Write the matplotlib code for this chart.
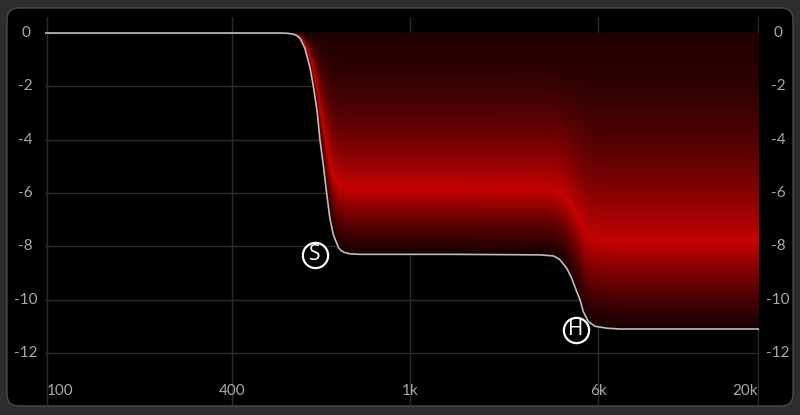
import numpy as np
import matplotlib
matplotlib.use("Agg")
import matplotlib.pyplot as plt
from matplotlib.colors import LinearSegmentedColormap
from matplotlib.patches import FancyBboxPatch, Polygon

plt.rcParams["font.family"] = ["Lato", "DejaVu Sans"]

# shelf response (Hz, dB)
freq = [98.5, 300, 450, 512, 531, 548, 558, 568, 582, 598, 608, 620, 629, 640,
        651, 662, 674, 692, 701, 716, 734, 773, 1500, 3452, 3919, 4060, 4178,
        4453, 4670, 4898, 5053, 5215, 5470, 5832, 6409, 7080, 20150]
gain = [0, 0, 0, 0, -0.01, -0.04, -0.1, -0.2, -0.57, -1.32, -2.0, -2.95, -4.0,
        -4.95, -6.0, -6.95, -7.57, -8.05, -8.16, -8.24, -8.28, -8.3, -8.3,
        -8.32, -8.36, -8.43, -8.51, -8.82, -9.2, -9.7, -10.0, -10.45, -10.82,
        -11.0, -11.07, -11.1, -11.1]

# the two band handles: S = low/mid shelf, H = high shelf
handle_names = ["S", "H"]
handle_freq = [612, 4852]
handle_gain = [-8.31, -11.12]

x_ticks = [100, 400, 1000, 6000, 20000]
x_labels = ["100", "400", "1k", "6k", "20k"]
y_ticks = [0, -2, -4, -6, -8, -10, -12]
y_labels = ["0", "-2", "-4", "-6", "-8", "-10", "-12"]

# the analyser's frequency axis is not a clean log scale, so warp it
# piecewise-log through the gridline positions it actually uses
warp_hz = np.log10([10, 100, 400, 1000, 6000, 20000, 200000])
warp_px = np.array([-260, 47, 232, 410, 598, 758, 1064], dtype=float)


def fwd(f):
    f = np.clip(np.asarray(f, dtype=float), 1e-3, None)
    return np.interp(np.log10(f), warp_hz, warp_px)


def inv(p):
    return 10 ** np.interp(np.asarray(p, dtype=float), warp_px, warp_hz)


W, H = 800, 415
fig = plt.figure(figsize=(W / 100, H / 100), dpi=100)

# --- background: checker + rounded black panel -------------------------
bg = fig.add_axes([0, 0, 1, 1])
bg.axis("off")
yy, xx = np.mgrid[0:H, 0:W]
checker = np.where(((xx // 2) + (yy // 2)) % 2 == 0, 0.165, 0.195)
bg.imshow(checker, cmap="gray", vmin=0, vmax=1, extent=(0, W, H, 0),
          aspect="auto", interpolation="nearest")
panel = FancyBboxPatch((7, 8), 786, 398, boxstyle="round,pad=0,rounding_size=12",
                       facecolor="black", edgecolor="#4a4a4a", lw=1)
bg.add_patch(panel)
band = np.linspace(0.21, 0.03, 20)[:, None] * np.ones((20, 2))
img = bg.imshow(band, cmap="gray", vmin=0, vmax=1, extent=(7, 793, 17, 8),
                aspect="auto", interpolation="bilinear")
img.set_clip_path(panel)
bg.set_xlim(0, W)
bg.set_ylim(H, 0)

# --- the response plot -------------------------------------------------
ax = fig.add_axes([45 / W, 10 / H, 714 / W, 388 / H])
ax.set_facecolor("black")
ax.set_xscale("function", functions=(fwd, inv))
ax.set_xlim(98.5, 20150)
ax.set_ylim(-13.95, 0.6)
ax.set_xticks(x_ticks)
ax.set_yticks(y_ticks)
ax.minorticks_off()
ax.tick_params(length=0, labelbottom=False, labelleft=False)
for s in ax.spines.values():
    s.set_visible(False)
ax.set_axisbelow(True)
ax.grid(True, color="#2a2a2a", lw=1)

# red gradient above the curve: bright ridge ~30% of the cut depth
# above the curve, fading dark towards 0 dB and towards the curve
lo, hi = fwd(ax.get_xlim())
xe = inv(np.linspace(lo, hi, 715))
ye = np.linspace(-11.3, 0.05, 340)
xc = inv((fwd(xe[:-1]) + fwd(xe[1:])) / 2)
yc = (ye[:-1] + ye[1:]) / 2
cut = np.interp(fwd(xc), fwd(freq), gain)
Y, C = np.meshgrid(yc, cut, indexing="ij")
depth = np.clip(-C, 1e-3, None)
u0 = 0.295
ypk = C * (1 - u0)
t_up = np.clip(Y / np.where(ypk < -1e-3, ypk, -1e-3), 0, 1)
t_dn = np.clip((Y - C) / (u0 * depth), 0, 1)
bright = np.where(Y > ypk, 0.17 + 0.83 * t_up ** 1.8, 0.12 + 0.88 * t_dn ** 1.2)

reds = LinearSegmentedColormap.from_list("shelf", ["#000000", "#c40202"])
mesh = ax.pcolormesh(xe, ye, bright, cmap=reds, vmin=0, vmax=1,
                     shading="flat", zorder=2)
clip = Polygon(list(zip(freq, gain)) + [(freq[-1], 0), (freq[0], 0)],
               closed=True, transform=ax.transData, facecolor="none",
               edgecolor="none")
ax.add_patch(clip)
mesh.set_clip_path(clip)

ax.plot(freq, gain, color="#bdbdbd", lw=1.2, zorder=4,
        solid_capstyle="round", solid_joinstyle="round")

ax.scatter(handle_freq, handle_gain, s=330, facecolor="black",
           edgecolor="white", lw=1.6, zorder=5)
for name, f, g in zip(handle_names, handle_freq, handle_gain):
    ax.text(f, g, name, color="white", fontsize=15, fontweight="normal",
            ha="center", va="center", zorder=6,
            family=["Open Sans", "DejaVu Sans"])

# labels
txt = dict(color="#a8a8a8", fontsize=11)
for v, lab in zip(y_ticks, y_labels):
    ax.text(-0.0273, v, lab, transform=ax.get_yaxis_transform(),
            ha="center", va="center", **txt)
    ax.text(1.0266, v, lab, transform=ax.get_yaxis_transform(),
            ha="center", va="center", **txt)
x_align = ["left", "center", "center", "center", "right"]
for f, lab, ha in zip(x_ticks, x_labels, x_align):
    ax.text(f, 0.036, lab, transform=ax.get_xaxis_transform(),
            ha=ha, va="center", **txt)

fig.savefig("out.png", dpi=100, facecolor="#2a2a2a")
